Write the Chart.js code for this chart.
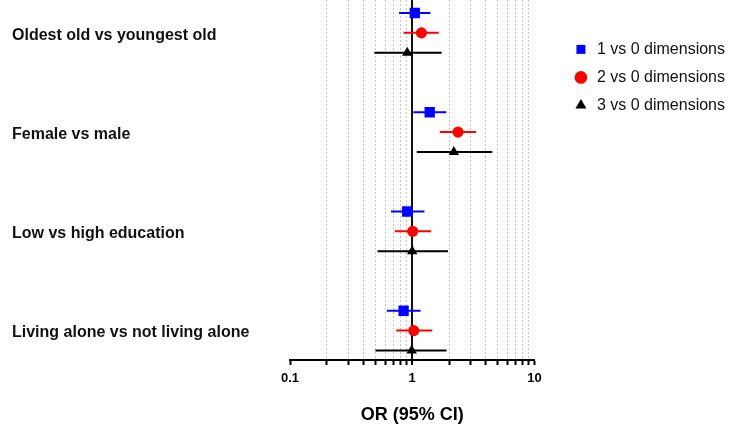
<!DOCTYPE html>
<html>
<head>
<meta charset="utf-8">
<script src="https://cdn.jsdelivr.net/npm/chart.js@4.4.1/dist/chart.umd.min.js"></script>
<style>
  body { margin: 0; background: #fff; }
</style>
</head>
<body>
<canvas id="chart1" width="742" height="437"></canvas>
<script>
// odds ratios
const groups = ['Oldest old vs youngest old', 'Female vs male', 'Low vs high education', 'Living alone vs not living alone'];
const seriesNames = ['1 vs 0 dimensions', '2 vs 0 dimensions', '3 vs 0 dimensions'];

const or1 = [1.05, 1.39, 0.91, 0.85];
const lo1 = [0.78, 1.02, 0.67, 0.62];
const hi1 = [1.41, 1.90, 1.26, 1.17];

const or2 = [1.19, 2.37, 1.01, 1.03];
const lo2 = [0.85, 1.68, 0.72, 0.74];
const hi2 = [1.65, 3.34, 1.43, 1.46];

const or3 = [0.91, 2.19, 1.00, 0.99];
const lo3 = [0.49, 1.09, 0.52, 0.50];
const hi3 = [1.74, 4.52, 1.96, 1.91];

// row slots: each group takes 5 units, series stacked inside it
const groupPos = [0, 5, 10, 15];
const xGrid = [0.1, 0.2, 0.3, 0.4, 0.5, 0.6, 0.7, 0.8, 0.9, 1, 2, 3, 4, 5, 6, 7, 8, 9, 10];
const xLabels = [0.1, 1, 10];

const FONT = "'Liberation Sans', Arial, sans-serif";
const legendShift = 26.5;

function points(vals, s) {
    return vals.map((v, i) => ({ x: v, y: groupPos[i] + s }));
}

function bars(lo, hi, s) {
    const out = [];
    for (let i = 0; i < lo.length; i++) {
        out.push({ x: lo[i], y: groupPos[i] + s });
        out.push({ x: hi[i], y: groupPos[i] + s });
        out.push({ x: null, y: null });
    }
    return out;
}

// move legend a bit right of the plot area
const shiftLegend = {
    id: 'shiftLegend',
    afterLayout(chart) {
        chart.legend.left += legendShift;
        chart.legend.right += legendShift;
    }
};

const chart1 = document.getElementById('chart1');
new Chart(chart1, {
    type: 'scatter',
    data: {
        datasets: [
            { label: seriesNames[0], data: points(or1, 0), pointStyle: 'rect', pointRadius: 7.3, backgroundColor: '#0000ff', borderWidth: 0 },
            { label: seriesNames[1], data: points(or2, 1), pointStyle: 'circle', pointRadius: 5.6, backgroundColor: '#ff0000', borderWidth: 0 },
            { label: seriesNames[2], data: points(or3, 2), pointStyle: 'triangle', pointRadius: 6, backgroundColor: '#000000', borderWidth: 0 },
            { label: 'ci1', data: bars(lo1, hi1, 0), showLine: true, spanGaps: false, pointRadius: 0, borderColor: '#0000ff', borderWidth: 2 },
            { label: 'ci2', data: bars(lo2, hi2, 1), showLine: true, spanGaps: false, pointRadius: 0, borderColor: '#ff0000', borderWidth: 2 },
            { label: 'ci3', data: bars(lo3, hi3, 2), showLine: true, spanGaps: false, pointRadius: 0, borderColor: '#000000', borderWidth: 2 },
        ],
    },
    plugins: [shiftLegend],
    options: {
        responsive: false,
        animation: false,
        layout: { autoPadding: false, padding: { left: 12, right: 33.5, top: 0, bottom: 0 } },
        plugins: {
            tooltip: { enabled: false },
            legend: {
                position: 'right',
                align: 'start',
                title: { display: true, text: ' ', font: { size: 12 }, padding: { top: 15, bottom: 0 } },
                labels: {
                    usePointStyle: true,
                    boxWidth: 16,
                    boxHeight: 9,
                    padding: 12,
                    color: '#111',
                    font: { family: FONT, size: 16 },
                    filter: (item) => item.datasetIndex < 3,
                },
            },
        },
        scales: {
            x: {
                type: 'logarithmic',
                min: 0.1,
                max: 10,
                afterBuildTicks: (scale) => { scale.ticks = xGrid.map(v => ({ value: v })); },
                afterFit: (scale) => { scale.height = 77; },
                ticks: {
                    autoSkip: false,
                    maxRotation: 0,
                    padding: 6,
                    color: '#000',
                    font: { family: FONT, size: 13, weight: 'bold' },
                    callback: (v) => xLabels.includes(v) ? String(v) : '',
                },
                grid: {
                    color: (ctx) => {
                        const v = ctx.tick ? ctx.tick.value : 0;
                        if (v === 1) return '#111';
                        if (v === 0.1 || v === 10) return 'rgba(0,0,0,0)';
                        return '#c4c4c4';
                    },
                    lineWidth: (ctx) => ctx.tick && ctx.tick.value === 1 ? 2 : 1,
                    tickColor: '#000',
                    tickWidth: 2,
                    tickLength: 5,
                },
                border: {
                    color: '#000',
                    width: 2,
                    dash: (ctx) => ctx.tick && ctx.tick.value === 1 ? [] : [2, 2],
                },
                title: {
                    display: true,
                    text: 'OR (95% CI)',
                    color: '#000',
                    font: { family: FONT, size: 18, weight: 'bold' },
                    padding: { top: 0, bottom: 11 },
                },
            },
            y: {
                type: 'linear',
                reverse: true,
                min: -0.655,
                max: 17.48,
                afterBuildTicks: (scale) => { scale.ticks = groupPos.map(p => ({ value: p + 1.12 })); },
                afterFit: (scale) => {
                    scale.width = 278;
                    scale.paddingTop = 0;
                    scale.paddingBottom = 0;
                },
                ticks: {
                    crossAlign: 'far',
                    color: '#111',
                    font: { family: FONT, size: 16, weight: 'bold' },
                    callback: (v, i) => groups[i],
                },
                grid: { display: false },
                border: { display: false },
            },
        },
    },
});
</script>
</body>
</html>
